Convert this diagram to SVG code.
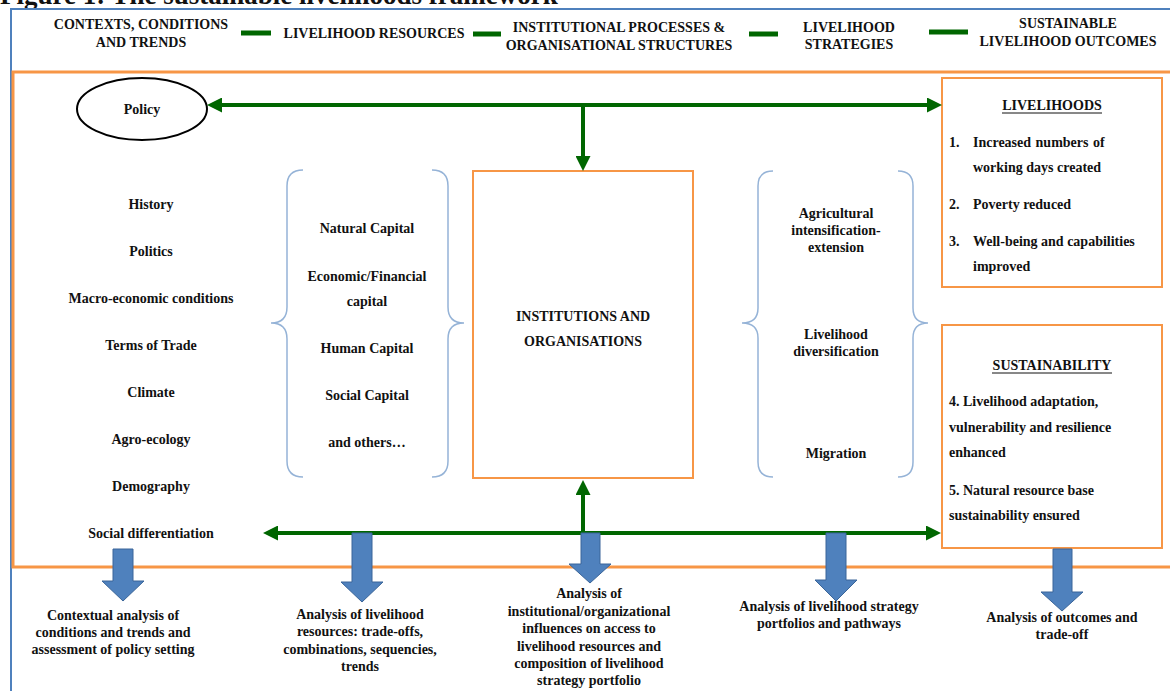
<svg xmlns="http://www.w3.org/2000/svg" width="1170" height="691" viewBox="0 0 1170 691">
<defs>
<style>
.t{font-family:"Liberation Serif","Times New Roman",serif;font-weight:bold;font-size:14px;fill:#111}
.c{text-anchor:middle}
.box{fill:#fff;stroke:#f79646;stroke-width:2}
.brace{fill:none;stroke:#95b3d7;stroke-width:1.5}
.gl{stroke:#006600;stroke-width:4;fill:none}
.dash{stroke:#006600;stroke-width:5}
.barrow{fill:#4f81bd;stroke:#3a6599;stroke-width:1}
.ul{stroke:#111;stroke-width:1}
</style>
<marker id="ga" markerUnits="userSpaceOnUse" viewBox="0 0 15 15" markerWidth="15" markerHeight="15" refX="6" refY="7.5" orient="auto-start-reverse">
<path d="M0,0 L15,7.5 L0,15 z" fill="#006600"/>
</marker>
</defs>
<rect width="1170" height="691" fill="#fff"/>
<text class="t" x="0" y="4" style="font-size:27px">Figure 1: The sustainable livelihoods framework</text>
<g id="frame">
<path d="M11,691 L11,9 L1170,9" fill="none" stroke="#4f81bd" stroke-width="2"/>
<path d="M1170,72 L13,72 L13,567 L1170,567" fill="none" stroke="#f79646" stroke-width="3"/>
</g>
<g id="header">
<text class="t c" x="141" y="29">CONTEXTS, CONDITIONS</text>
<text class="t c" x="141" y="47">AND TRENDS</text>
<text class="t c" x="374" y="38">LIVELIHOOD RESOURCES</text>
<text class="t c" x="619" y="32">INSTITUTIONAL PROCESSES &amp;</text>
<text class="t c" x="619" y="50">ORGANISATIONAL STRUCTURES</text>
<text class="t c" x="849" y="32">LIVELIHOOD</text>
<text class="t c" x="849" y="49">STRATEGIES</text>
<text class="t c" x="1068" y="28">SUSTAINABLE</text>
<text class="t c" x="1068" y="46">LIVELIHOOD OUTCOMES</text>
<line class="dash" x1="241" y1="33" x2="271" y2="33"/>
<line class="dash" x1="473" y1="34" x2="501" y2="34"/>
<line class="dash" x1="749" y1="34" x2="778" y2="34"/>
<line class="dash" x1="929" y1="32" x2="968" y2="32"/>
</g>
<g id="policy">
<ellipse cx="142" cy="109" rx="65" ry="31" fill="#fff" stroke="#000" stroke-width="2"/>
<text class="t c" x="142" y="114">Policy</text>
</g>
<g id="contexts">
<text class="t c" x="151" y="209">History</text>
<text class="t c" x="151" y="256">Politics</text>
<text class="t c" x="151" y="303">Macro-economic conditions</text>
<text class="t c" x="151" y="350">Terms of Trade</text>
<text class="t c" x="151" y="397">Climate</text>
<text class="t c" x="151" y="444">Agro-ecology</text>
<text class="t c" x="151" y="491">Demography</text>
<text class="t c" x="151" y="538">Social differentiation</text>
</g>
<g id="resources">
<path class="brace" d="M303,170 Q287,170 287,186 L287,307 Q287,323 271,323 Q287,323 287,339 L287,461 Q287,477 303,477"/>
<path class="brace" d="M432,170 Q448,170 448,186 L448,307 Q448,323 464,323 Q448,323 448,339 L448,461 Q448,477 432,477"/>
<text class="t c" x="367" y="233">Natural Capital</text>
<text class="t c" x="367" y="281">Economic/Financial</text>
<text class="t c" x="367" y="306">capital</text>
<text class="t c" x="367" y="353">Human Capital</text>
<text class="t c" x="367" y="400">Social Capital</text>
<text class="t c" x="367" y="447">and others…</text>
</g>
<g id="institutions">
<rect class="box" x="473" y="171" width="220" height="307"/>
<text class="t c" x="583" y="321">INSTITUTIONS AND</text>
<text class="t c" x="583" y="346">ORGANISATIONS</text>
</g>
<g id="strategies">
<path class="brace" d="M773,171 Q758,171 758,186 L758,308 Q758,323 742,323 Q758,323 758,338 L758,462 Q758,477 773,477"/>
<path class="brace" d="M898,171 Q913,171 913,186 L913,308 Q913,323 928,323 Q913,323 913,338 L913,462 Q913,477 898,477"/>
<text class="t c" x="836" y="218">Agricultural</text>
<text class="t c" x="836" y="235">intensification-</text>
<text class="t c" x="836" y="252">extension</text>
<text class="t c" x="836" y="339">Livelihood</text>
<text class="t c" x="836" y="356">diversification</text>
<text class="t c" x="836" y="458">Migration</text>
</g>
<g id="livelihoods">
<rect class="box" x="942" y="78" width="220" height="209"/>
<text class="t c" x="1052" y="110">LIVELIHOODS</text>
<line class="ul" x1="1002" y1="113" x2="1102" y2="113"/>
<text class="t" x="949" y="147">1.</text>
<text class="t" x="973" y="147" style="word-spacing:1px">Increased numbers of</text>
<text class="t" x="973" y="172">working days created</text>
<text class="t" x="949" y="209">2.</text>
<text class="t" x="973" y="209">Poverty reduced</text>
<text class="t" x="949" y="246">3.</text>
<text class="t" x="973" y="246">Well-being and capabilities</text>
<text class="t" x="973" y="271">improved</text>
</g>
<g id="sustainability">
<rect class="box" x="942" y="325" width="220" height="223"/>
<text class="t c" x="1052" y="370">SUSTAINABILITY</text>
<line class="ul" x1="992" y1="373" x2="1112" y2="373"/>
<text class="t" x="949" y="406">4. Livelihood adaptation,</text>
<text class="t" x="949" y="432">vulnerability and resilience</text>
<text class="t" x="949" y="457">enhanced</text>
<text class="t" x="949" y="495">5. Natural resource base</text>
<text class="t" x="949" y="520">sustainability ensured</text>
</g>
<g id="connectors">
<line class="gl" x1="216" y1="105" x2="933" y2="105" marker-start="url(#ga)" marker-end="url(#ga)"/>
<line class="gl" x1="583" y1="105" x2="583" y2="162" marker-end="url(#ga)"/>
<line class="gl" x1="272" y1="533" x2="932" y2="533" marker-start="url(#ga)" marker-end="url(#ga)"/>
<line class="gl" x1="583" y1="533" x2="583" y2="489" marker-end="url(#ga)"/>
<polygon class="barrow" points="113,549 133,549 133,581 144,581 123,601 102,581 113,581"/>
<polygon class="barrow" points="352,533 372,533 372,582 383,582 362,602 341,582 352,582"/>
<polygon class="barrow" points="581,533 600,533 600,564 611,564 590,583 569,564 581,564"/>
<polygon class="barrow" points="826,533 846,533 846,580 857,580 836,601 815,580 826,580"/>
<polygon class="barrow" points="1053,549 1072,549 1072,592 1083,592 1062,611 1041,592 1053,592"/>
</g>
<g id="analyses">
<text class="t c" x="113" y="620">Contextual analysis of</text>
<text class="t c" x="113" y="637">conditions and trends and</text>
<text class="t c" x="113" y="654">assessment of policy setting</text>
<text class="t c" x="360" y="619">Analysis of livelihood</text>
<text class="t c" x="360" y="636">resources: trade-offs,</text>
<text class="t c" x="360" y="654">combinations, sequencies,</text>
<text class="t c" x="360" y="671">trends</text>
<text class="t c" x="589" y="598">Analysis of</text>
<text class="t c" x="589" y="616">institutional/organizational</text>
<text class="t c" x="589" y="633">influences on access to</text>
<text class="t c" x="589" y="651">livelihood resources and</text>
<text class="t c" x="589" y="668">composition of livelihood</text>
<text class="t c" x="589" y="685">strategy portfolio</text>
<text class="t c" x="829" y="611">Analysis of livelihood strategy</text>
<text class="t c" x="829" y="628">portfolios and pathways</text>
<text class="t c" x="1062" y="622">Analysis of outcomes and</text>
<text class="t c" x="1062" y="639">trade-off</text>
</g>
</svg>
